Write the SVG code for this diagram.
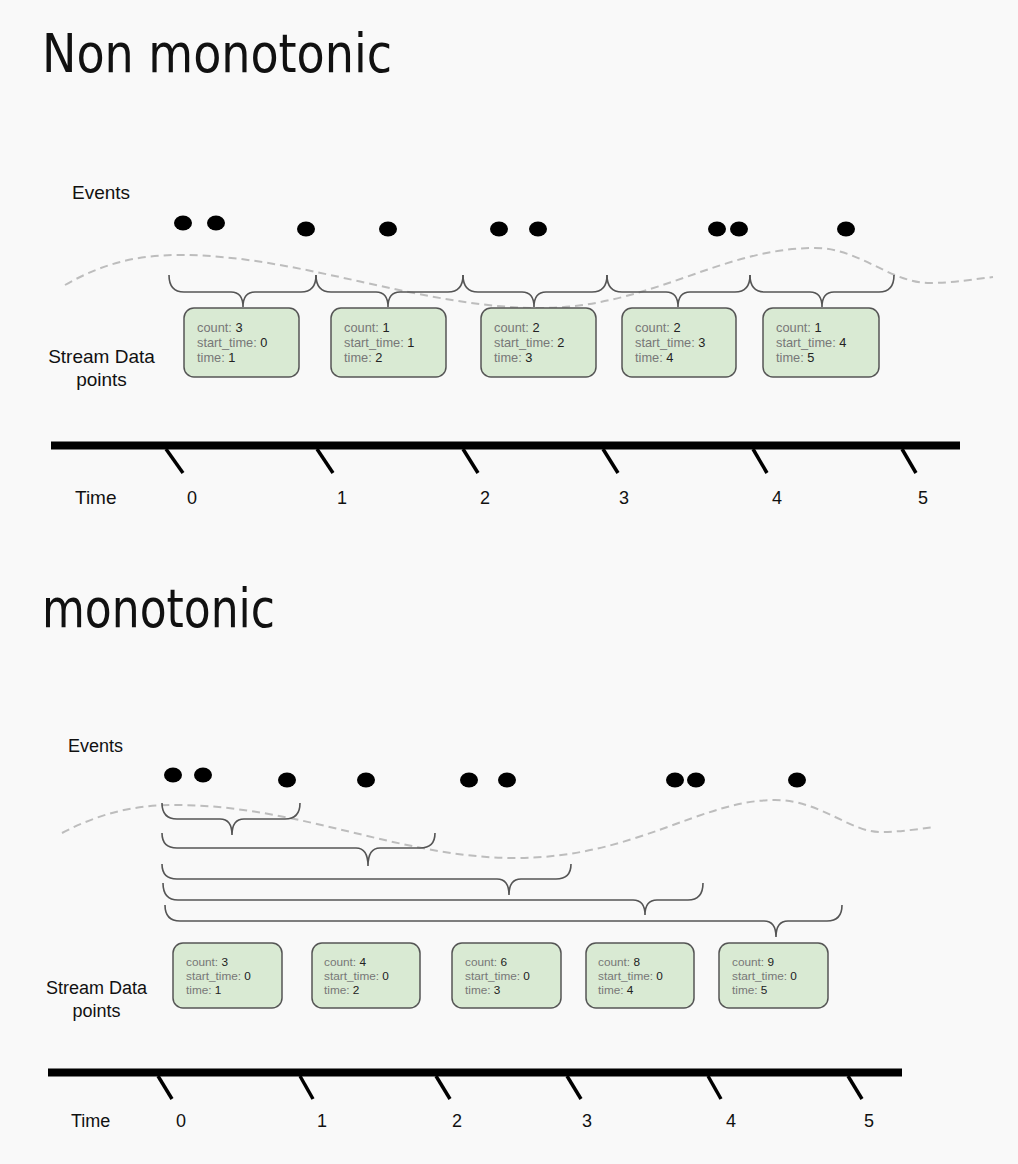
<svg xmlns="http://www.w3.org/2000/svg" width="1018" height="1164" viewBox="0 0 1018 1164">
<style>
.title{font-family:"DejaVu Sans Condensed","DejaVu Sans",sans-serif;font-size:54px;fill:#111;}
.lbl{font-family:"Liberation Sans",Arial,sans-serif;font-size:19px;fill:#111;}
.lbl2{font-family:"Liberation Sans",Arial,sans-serif;font-size:18px;fill:#111;}
.num{font-family:"Liberation Sans",Arial,sans-serif;font-size:18px;fill:#111;text-anchor:middle;}
.box{fill:#d9ead3;stroke:#555;stroke-width:1.5;}
.bt{font-family:"Liberation Sans",Arial,sans-serif;font-size:12.8px;fill:#777;}
.bt2{font-family:"Liberation Sans",Arial,sans-serif;font-size:11.8px;fill:#777;}
.v{fill:#222;}
.brace{fill:none;stroke:#555;stroke-width:1.6;}
.wave{fill:none;stroke:#bdbdbd;stroke-width:2;stroke-dasharray:8 5;}
.axis{stroke:#000;stroke-width:8;}
.tick{stroke:#000;stroke-width:3.5;}
.dot{fill:#000;}
</style>
<rect width="1018" height="1164" fill="#f9f9f9"/>

<!-- ===== Non monotonic ===== -->
<text class="title" x="42" y="72" textLength="350" lengthAdjust="spacingAndGlyphs">Non monotonic</text>
<text class="lbl" x="72" y="199">Events</text>
<g id="events-top">
<ellipse class="dot" cx="183" cy="223" rx="9" ry="7.5"/>
<ellipse class="dot" cx="216" cy="223" rx="9" ry="7.5"/>
<ellipse class="dot" cx="306" cy="229" rx="9" ry="7.5"/>
<ellipse class="dot" cx="388" cy="229" rx="9" ry="7.5"/>
<ellipse class="dot" cx="499" cy="229" rx="9" ry="7.5"/>
<ellipse class="dot" cx="538" cy="229" rx="9" ry="7.5"/>
<ellipse class="dot" cx="717" cy="229" rx="9" ry="7.5"/>
<ellipse class="dot" cx="739" cy="229" rx="9" ry="7.5"/>
<ellipse class="dot" cx="846" cy="229" rx="9" ry="7.5"/>
</g>
<path class="wave" d="M65,285 C105,262 140,255 180,255 C300,255 420,308 540,308 C650,308 720,248 815,248 C860,248 890,283 930,283 C955,283 975,279 993,277"/>
<g id="connectors-top">
<path class="brace" d="M169,275 Q169,292 184,292 L231,292 Q243,292 243,307 Q243,292 255,292 L301,292 Q316,292 316,275"/>
<path class="brace" d="M316,275 Q316,292 331,292 L376,292 Q388,292 388,307 Q388,292 400,292 L448,292 Q463,292 463,275"/>
<path class="brace" d="M463,275 Q463,292 478,292 L522,292 Q534,292 534,307 Q534,292 546,292 L592,292 Q607,292 607,275"/>
<path class="brace" d="M607,275 Q607,292 622,292 L666,292 Q678,292 678,307 Q678,292 690,292 L735,292 Q750,292 750,275"/>
<path class="brace" d="M750,275 Q750,292 765,292 L810,292 Q822,292 822,307 Q822,292 834,292 L879,292 Q894,292 894,275"/>
</g>
<text class="lbl" x="101.5" y="363" text-anchor="middle">Stream Data</text>
<text class="lbl" x="101.5" y="386" text-anchor="middle">points</text>
<g id="dp-top-1"><rect class="box" x="184" y="308" width="115" height="69" rx="10"/>
<text class="bt" x="197" y="332">count: <tspan class="v">3</tspan></text>
<text class="bt" x="197" y="347">start_time: <tspan class="v">0</tspan></text>
<text class="bt" x="197" y="362">time: <tspan class="v">1</tspan></text></g>
<g id="dp-top-2"><rect class="box" x="331" y="308" width="115" height="69" rx="10"/>
<text class="bt" x="344" y="332">count: <tspan class="v">1</tspan></text>
<text class="bt" x="344" y="347">start_time: <tspan class="v">1</tspan></text>
<text class="bt" x="344" y="362">time: <tspan class="v">2</tspan></text></g>
<g id="dp-top-3"><rect class="box" x="481" y="308" width="115" height="69" rx="10"/>
<text class="bt" x="494" y="332">count: <tspan class="v">2</tspan></text>
<text class="bt" x="494" y="347">start_time: <tspan class="v">2</tspan></text>
<text class="bt" x="494" y="362">time: <tspan class="v">3</tspan></text></g>
<g id="dp-top-4"><rect class="box" x="622" y="308" width="114" height="69" rx="10"/>
<text class="bt" x="635" y="332">count: <tspan class="v">2</tspan></text>
<text class="bt" x="635" y="347">start_time: <tspan class="v">3</tspan></text>
<text class="bt" x="635" y="362">time: <tspan class="v">4</tspan></text></g>
<g id="dp-top-5"><rect class="box" x="763" y="308" width="116" height="69" rx="10"/>
<text class="bt" x="776" y="332">count: <tspan class="v">1</tspan></text>
<text class="bt" x="776" y="347">start_time: <tspan class="v">4</tspan></text>
<text class="bt" x="776" y="362">time: <tspan class="v">5</tspan></text></g>
<g id="axis-top">
<line class="axis" x1="51" y1="445.5" x2="960" y2="445.5"/>
<line class="tick" x1="166" y1="449" x2="183" y2="473"/>
<line class="tick" x1="317" y1="449" x2="333" y2="473"/>
<line class="tick" x1="463" y1="449" x2="478" y2="473"/>
<line class="tick" x1="603" y1="449" x2="618" y2="473"/>
<line class="tick" x1="753" y1="449" x2="767" y2="473"/>
<line class="tick" x1="902" y1="449" x2="916" y2="473"/>
<text class="lbl" x="75" y="504">Time</text>
<text class="num" x="192" y="504">0</text>
<text class="num" x="342" y="504">1</text>
<text class="num" x="485" y="504">2</text>
<text class="num" x="624" y="504">3</text>
<text class="num" x="777" y="504">4</text>
<text class="num" x="923" y="504">5</text>
</g>

<!-- ===== monotonic ===== -->
<text class="title" x="42" y="627" textLength="233" lengthAdjust="spacingAndGlyphs">monotonic</text>
<text class="lbl2" x="68" y="752">Events</text>
<g id="events-bottom">
<ellipse class="dot" cx="173" cy="775" rx="9" ry="7.5"/>
<ellipse class="dot" cx="203" cy="775" rx="9" ry="7.5"/>
<ellipse class="dot" cx="287" cy="780" rx="9" ry="7.5"/>
<ellipse class="dot" cx="366" cy="780" rx="9" ry="7.5"/>
<ellipse class="dot" cx="469" cy="780" rx="9" ry="7.5"/>
<ellipse class="dot" cx="507" cy="780" rx="9" ry="7.5"/>
<ellipse class="dot" cx="675" cy="780" rx="9" ry="7.5"/>
<ellipse class="dot" cx="696" cy="780" rx="9" ry="7.5"/>
<ellipse class="dot" cx="797" cy="780" rx="9" ry="7.5"/>
</g>
<path class="wave" d="M62,833 C100,813 135,805 175,805 C300,805 400,858 515,858 C635,858 700,800 775,800 C820,800 850,832 880,832 C900,832 918,829 935,827"/>
<g id="connectors-bottom">
<path class="brace" d="M162,803 Q162,819 177,819 L220,819 Q232,819 232,835 Q232,819 244,819 L285,819 Q300,819 300,803"/>
<path class="brace" d="M162,833 Q162,848 177,848 L356,848 Q368,848 368,866 Q368,848 380,848 L420,848 Q435,848 435,833"/>
<path class="brace" d="M162,864 Q162,879 177,879 L497,879 Q509,879 509,895 Q509,879 521,879 L556,879 Q571,879 571,864"/>
<path class="brace" d="M163,883 Q163,900 178,900 L633,900 Q645,900 645,915 Q645,900 657,900 L688,900 Q703,900 703,883"/>
<path class="brace" d="M165,905 Q165,921 180,921 L764,921 Q776,921 776,937 Q776,921 788,921 L827,921 Q842,921 842,905"/>
</g>
<text class="lbl2" x="96.5" y="994" text-anchor="middle">Stream Data</text>
<text class="lbl2" x="96.5" y="1017" text-anchor="middle">points</text>
<g id="dp-bot-1"><rect class="box" x="173" y="943" width="109" height="65" rx="10"/>
<text class="bt2" x="186" y="966">count: <tspan class="v">3</tspan></text>
<text class="bt2" x="186" y="980">start_time: <tspan class="v">0</tspan></text>
<text class="bt2" x="186" y="994">time: <tspan class="v">1</tspan></text></g>
<g id="dp-bot-2"><rect class="box" x="312" y="943" width="108" height="65" rx="10"/>
<text class="bt2" x="324" y="966">count: <tspan class="v">4</tspan></text>
<text class="bt2" x="324" y="980">start_time: <tspan class="v">0</tspan></text>
<text class="bt2" x="324" y="994">time: <tspan class="v">2</tspan></text></g>
<g id="dp-bot-3"><rect class="box" x="452" y="943" width="109" height="65" rx="10"/>
<text class="bt2" x="465" y="966">count: <tspan class="v">6</tspan></text>
<text class="bt2" x="465" y="980">start_time: <tspan class="v">0</tspan></text>
<text class="bt2" x="465" y="994">time: <tspan class="v">3</tspan></text></g>
<g id="dp-bot-4"><rect class="box" x="586" y="943" width="108" height="65" rx="10"/>
<text class="bt2" x="598" y="966">count: <tspan class="v">8</tspan></text>
<text class="bt2" x="598" y="980">start_time: <tspan class="v">0</tspan></text>
<text class="bt2" x="598" y="994">time: <tspan class="v">4</tspan></text></g>
<g id="dp-bot-5"><rect class="box" x="719" y="943" width="109" height="65" rx="10"/>
<text class="bt2" x="732" y="966">count: <tspan class="v">9</tspan></text>
<text class="bt2" x="732" y="980">start_time: <tspan class="v">0</tspan></text>
<text class="bt2" x="732" y="994">time: <tspan class="v">5</tspan></text></g>
<g id="axis-bottom">
<line class="axis" x1="48" y1="1072.5" x2="902" y2="1072.5"/>
<line class="tick" x1="158" y1="1076" x2="172" y2="1099"/>
<line class="tick" x1="300" y1="1076" x2="313" y2="1099"/>
<line class="tick" x1="436" y1="1076" x2="450" y2="1099"/>
<line class="tick" x1="567" y1="1076" x2="581" y2="1099"/>
<line class="tick" x1="708" y1="1076" x2="721" y2="1099"/>
<line class="tick" x1="848" y1="1076" x2="862" y2="1099"/>
<text class="lbl2" x="71" y="1127">Time</text>
<text class="num" x="181" y="1127">0</text>
<text class="num" x="322" y="1127">1</text>
<text class="num" x="457" y="1127">2</text>
<text class="num" x="587" y="1127">3</text>
<text class="num" x="731" y="1127">4</text>
<text class="num" x="869" y="1127">5</text>
</g>
</svg>
